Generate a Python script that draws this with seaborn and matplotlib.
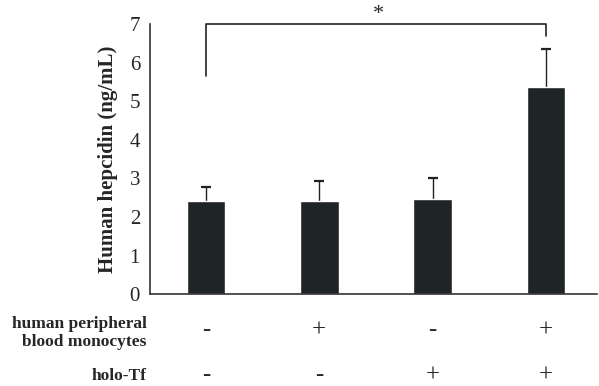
import matplotlib
matplotlib.use("Agg")
import matplotlib.pyplot as plt
import seaborn as sns
import pandas as pd
import numpy as np

groups = ["G1", "G2", "G3", "G4"]
means = [2.42, 2.40, 2.47, 5.37]
sd_upper = [0.36, 0.52, 0.55, 0.98]
monocytes = ["-", "+", "-", "+"]
holo_tf = ["-", "-", "+", "+"]
y_ticks = [0, 1, 2, 3, 4, 5, 6, 7]

sns.set_style("white")
plt.rcParams['font.family'] = ['Liberation Serif', 'DejaVu Serif']

df = pd.DataFrame({"group": groups, "value": means})

fig = plt.figure(figsize=(5.99, 3.86), dpi=100)
ax = fig.add_axes([0.25, 0.238, 0.747, 0.70])

xs = np.arange(len(groups))
tops = np.array(means) + np.array(sd_upper)
ax.vlines(xs, means, tops, color="#222222", lw=1.0, zorder=1)
ax.plot(xs, tops, ls="none", marker="_", ms=7, mew=1.6, color="#222222", zorder=1)
sns.barplot(data=df, x="group", y="value", color="#1f2427", width=0.34,
            errorbar=None, ax=ax, saturation=1)

ax.set_xlim(-0.494, 3.45)
ax.set_ylim(0, 7)
ax.set_yticks(y_ticks)
ax.set_yticklabels([str(t) for t in y_ticks], fontsize=15)
ax.set_xticks([])
ax.set_xlabel("")
ax.set_ylabel("Human hepcidin (ng/mL)", fontsize=15, fontweight="bold", labelpad=8)
for s in ["top", "right"]:
    ax.spines[s].set_visible(False)
for s in ["left", "bottom"]:
    ax.spines[s].set_color("#333333")
    ax.spines[s].set_linewidth(1.2)
ax.tick_params(axis="y", direction="out", length=4, width=1, color="#333333", pad=3)

# significance bracket
ax.plot([0, 0, 3, 3], [5.65, 7.0, 7.0, 6.7], color="#222222", lw=1.2, clip_on=False)
ax.text(1.52, 7.0, "*", ha="center", va="bottom", fontsize=16)

# condition rows
trans = ax.get_xaxis_transform()
ax.text(-0.52, -0.145, "human peripheral\nblood monocytes", transform=trans,
        ha="right", va="center", fontsize=12.5, fontweight="bold", linespacing=1.15)
ax.text(-0.52, -0.304, "holo-Tf", transform=trans,
        ha="right", va="center", fontsize=12.5, fontweight="bold")
for x, m, h in zip(xs, monocytes, holo_tf):
    ax.text(x, -0.133, m, transform=trans, ha="center", va="center", fontsize=18)
    ax.text(x, -0.30, h, transform=trans, ha="center", va="center", fontsize=18)

fig.savefig("out.png", dpi=100)
